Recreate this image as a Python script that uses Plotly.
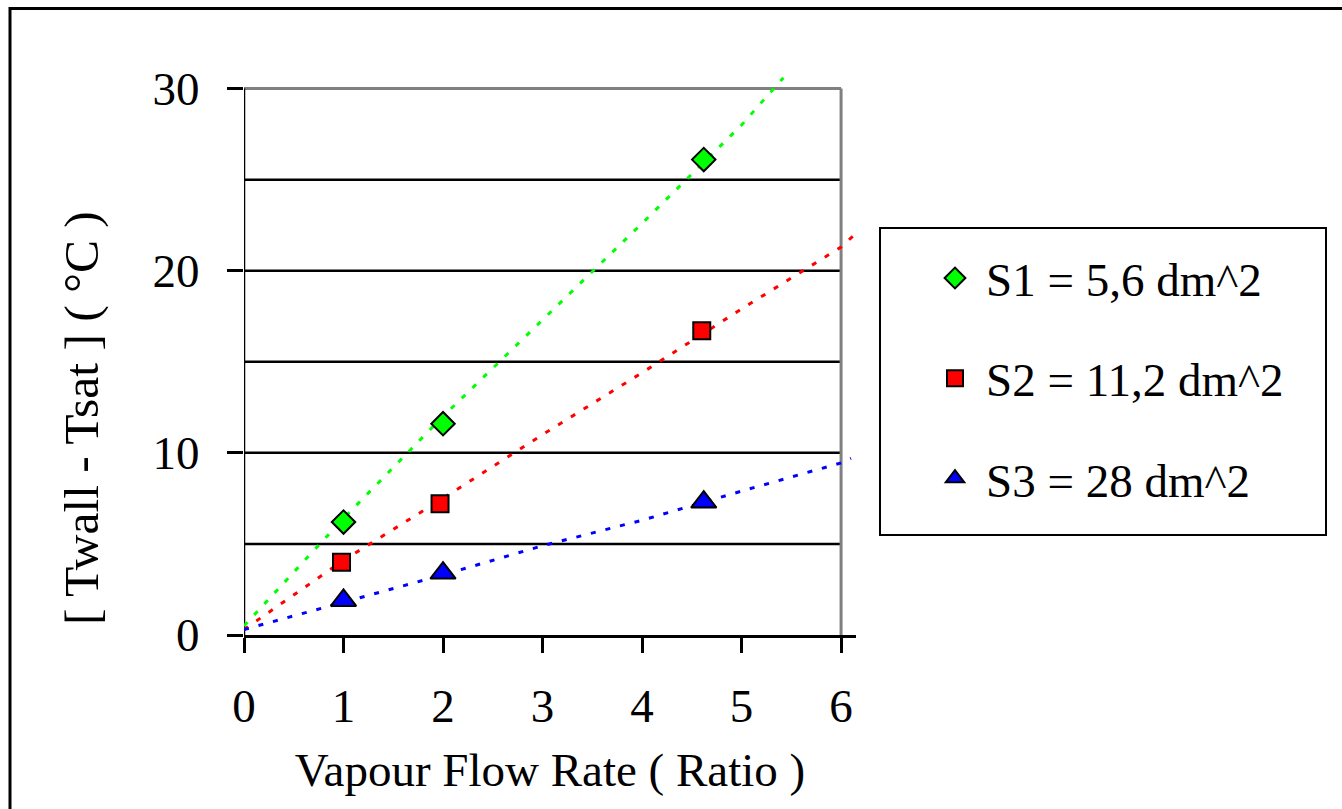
import plotly.graph_objects as go

# ---- data ----
s1_x = [1.0, 2.0, 4.62]
s1_y = [6.2, 11.6, 26.1]
s2_x = [0.98, 1.97, 4.6]
s2_y = [4.0, 7.2, 16.7]
s3_x = [1.0, 2.0, 4.62]
s3_y = [1.9, 3.4, 7.3]

# trend lines (dotted)
t1_x = [0.0, 1.0, 2.0, 3.0, 4.0, 5.0, 5.42]
t1_y = [0.5, 6.4, 12.0, 17.3, 22.6, 28.0, 30.6]
t2_x = [0.0, 1.0, 2.0, 3.0, 4.0, 5.0, 6.0, 6.12]
t2_y = [0.3, 4.1, 7.5, 11.0, 14.4, 17.9, 21.3, 21.9]
t3_x = [0.0, 1.0, 2.0, 3.0, 4.0, 5.0, 6.0, 6.1]
t3_y = [0.3, 1.8, 3.3, 4.9, 6.3, 7.9, 9.45, 9.7]

names = ["S1 = 5,6 dm^2", "S2 = 11,2 dm^2", "S3 = 28 dm^2"]
x_ticks = [0, 1, 2, 3, 4, 5, 6]
y_ticks = [0, 10, 20, 30]
y_grid = [5, 10, 15, 20, 25, 30]

FONT = "Liberation Serif, Tinos, Times New Roman, DejaVu Serif, serif"
FS = 47
W, H = 1342, 809
L, R, T, B = 244, 486, 74, 174
XR = [0, 6.15]
YR = [0, 30.8]

fig = go.Figure()

for tx, ty, col in [(t1_x, t1_y, "#00ff00"), (t2_x, t2_y, "#ff0000"), (t3_x, t3_y, "#0000ff")]:
    fig.add_trace(go.Scatter(x=tx, y=ty, mode="lines", showlegend=False, hoverinfo="skip",
                             line=dict(color=col, width=3, dash="5px,10px")))

for i, (xs, ys, col, sym, sz) in enumerate([
        (s1_x, s1_y, "#00ff00", "diamond", 18),
        (s2_x, s2_y, "#ff0000", "square", 17),
        (s3_x, s3_y, "#0000ff", "triangle-up", 22)]):
    fig.add_trace(go.Scatter(x=xs, y=ys, mode="markers", name=names[i], legendgroup=f"g{i}",
                             marker=dict(color=col, symbol=sym, size=sz,
                                         line=dict(color="black", width=2))))

def px2paper_x(px):
    return (px - L) / (W - L - R)

def px2paper_y(py):
    return (H - B - py) / (H - T - B)

shapes = []
# horizontal grid lines (black), top border at 30 gray
for g in y_grid:
    shapes.append(dict(type="line", xref="x", yref="y", x0=0, x1=6, y0=g, y1=g,
                       line=dict(color="black" if g != 30 else "#808080", width=3 if g == 30 else 2.5),
                       layer="below"))
# right border at x=6 (gray)
shapes.append(dict(type="line", xref="x", yref="y", x0=6, x1=6, y0=0, y1=30,
                   line=dict(color="#808080", width=3), layer="below"))
# left axis line 0..30 (black)
shapes.append(dict(type="line", xref="x", yref="y", x0=0, x1=0, y0=0, y1=30,
                   line=dict(color="black", width=2.5), layer="below"))
# outer frame
shapes.append(dict(type="rect", xref="paper", yref="paper",
                   x0=px2paper_x(10), x1=px2paper_x(1400), y0=px2paper_y(900), y1=px2paper_y(8.5),
                   line=dict(color="black", width=3), layer="below"))
# legend box
shapes.append(dict(type="rect", xref="paper", yref="paper",
                   x0=px2paper_x(880), x1=px2paper_x(1326), y0=px2paper_y(535), y1=px2paper_y(228),
                   line=dict(color="black", width=2), layer="below"))

fig.update_layout(
    width=W, height=H,
    margin=dict(l=L, r=R, t=T, b=B),
    paper_bgcolor="white", plot_bgcolor="white",
    font=dict(family=FONT, size=FS, color="black"),
    shapes=shapes,
    showlegend=True,
    legend=dict(x=px2paper_x(924), y=px2paper_y(241), xanchor="left", yanchor="top",
                bgcolor="rgba(0,0,0,0)", borderwidth=0, tracegroupgap=36, itemwidth=52,
                font=dict(family=FONT, size=FS, color="black")),
    xaxis=dict(range=XR, tickmode="array", tickvals=x_ticks, ticks="outside", ticklen=15,
               tickwidth=2.5, tickcolor="black", showline=True, linecolor="black", linewidth=2.5,
               showgrid=False, zeroline=False, ticklabelstandoff=13,
               title=dict(text="Vapour Flow Rate ( Ratio )", standoff=22,
                          font=dict(family=FONT, size=FS, color="black")),
               tickfont=dict(family=FONT, size=FS, color="black")),
    yaxis=dict(range=YR, tickmode="array", tickvals=y_ticks, ticks="outside", ticklen=16,
               tickwidth=2.5, tickcolor="black", showline=False,
               showgrid=False, zeroline=False, ticklabelstandoff=18,
               tickfont=dict(family=FONT, size=FS, color="black")),
    annotations=[dict(text="[ Twall - Tsat ] ( °C )", textangle=-90, xref="paper", yref="paper",
                      x=px2paper_x(81), y=px2paper_y(418), xanchor="center", yanchor="middle",
                      showarrow=False, font=dict(family=FONT, size=49.5, color="black"))],
)

fig.write_html("out.html")
